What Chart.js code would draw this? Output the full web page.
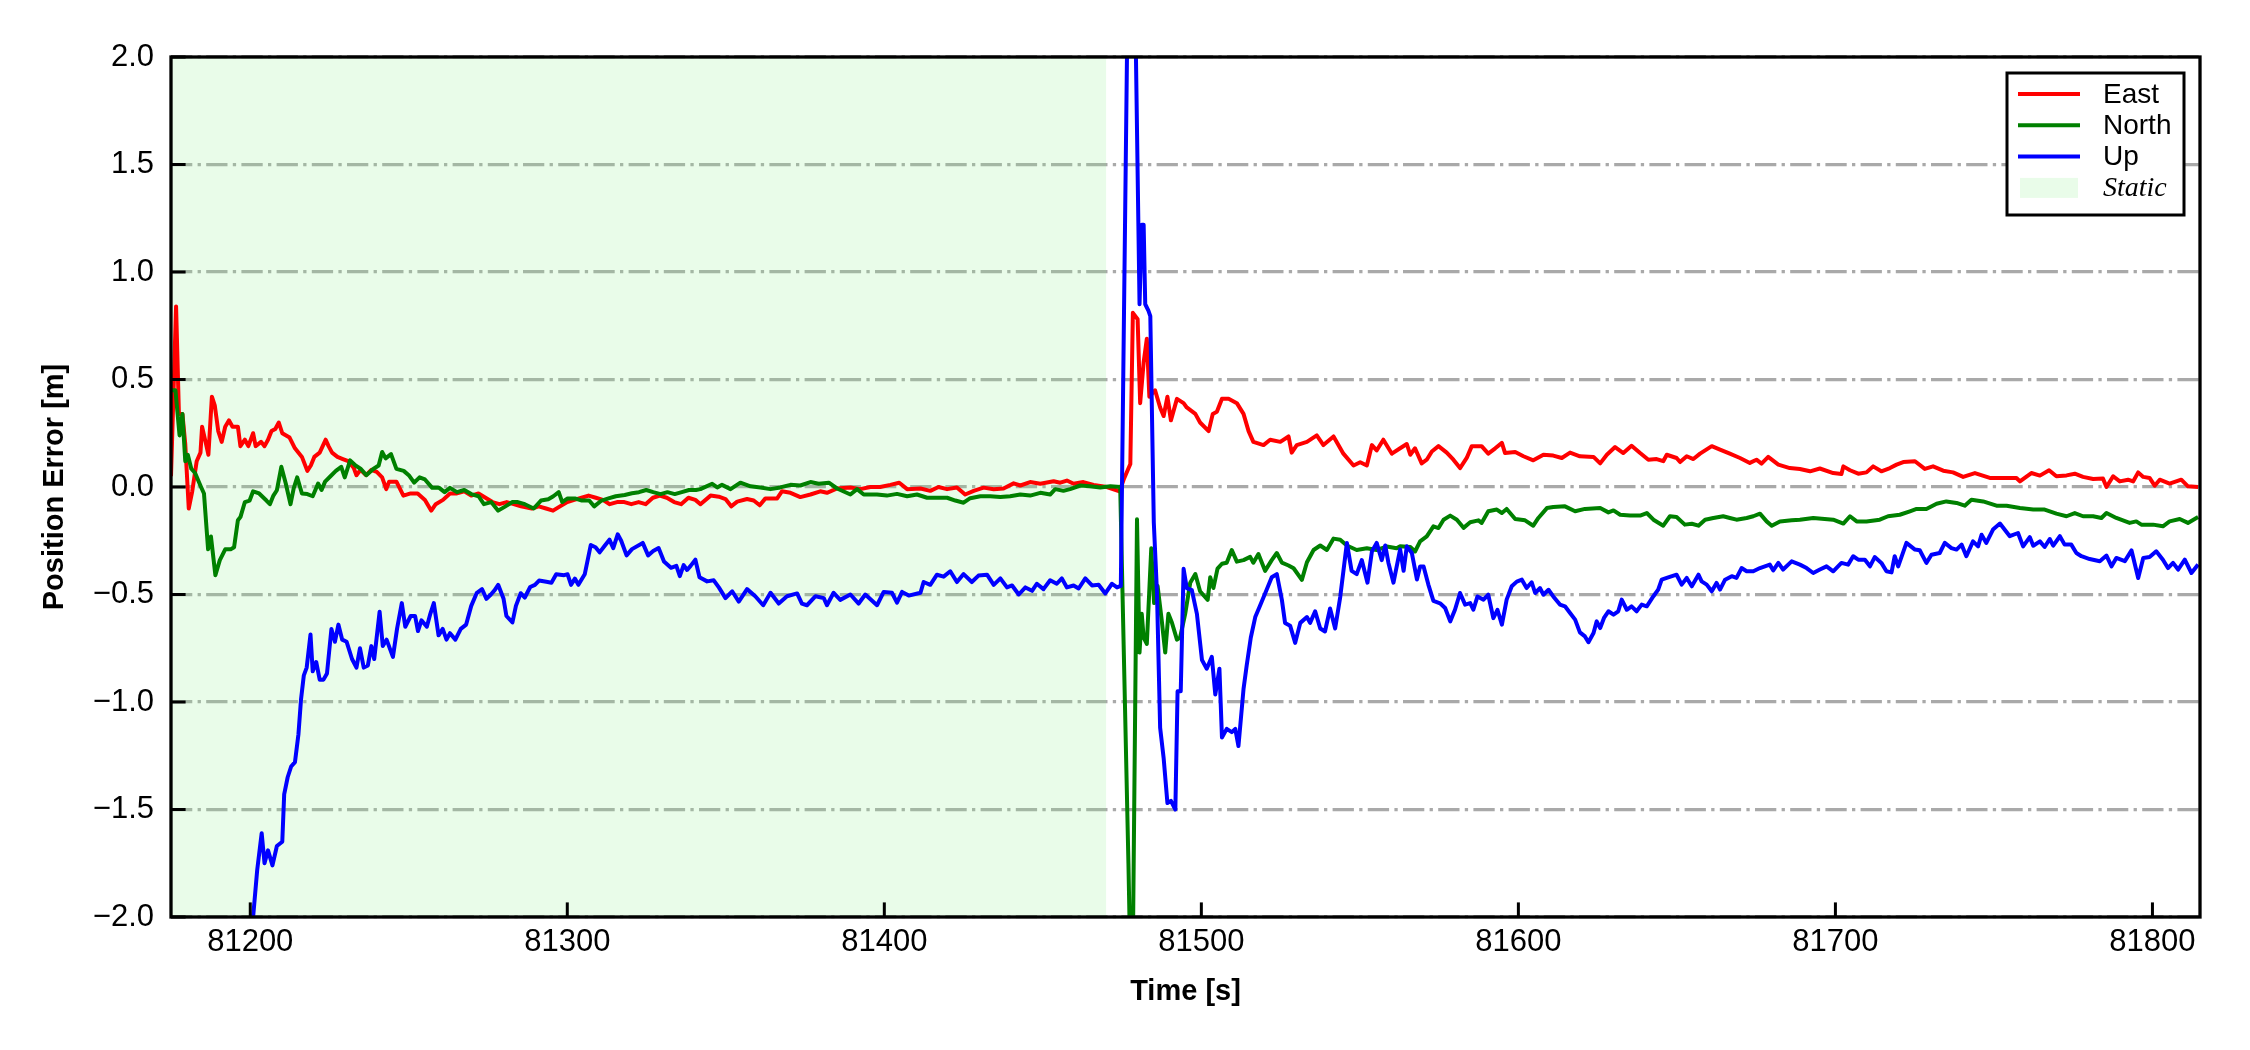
<!DOCTYPE html>
<html><head><meta charset="utf-8">
<script src="https://cdn.jsdelivr.net/npm/chart.js@4/dist/chart.umd.min.js"></script>
<style>html,body{margin:0;padding:0;background:#fff;}canvas{display:block;}</style>
</head><body>
<canvas id="c" width="2250" height="1050" style="width:2250px;height:1050px"></canvas>
<script>
// ---- data (time [s], error [m]) ----
const seriesNames = ['East', 'North', 'Up'];
const staticLabel = 'Static';
const staticSpan = [81175, 81470];
const xRange = [81175, 81815];
const yRange = [-2, 2];
const xTickValues = [81200, 81300, 81400, 81500, 81600, 81700, 81800];
const xTickLabels = ['81200', '81300', '81400', '81500', '81600', '81700', '81800'];
const yTickValues = [-2, -1.5, -1, -0.5, 0, 0.5, 1, 1.5, 2];
const yTickLabels = ['\u22122.0', '\u22121.5', '\u22121.0', '\u22120.5', '0.0', '0.5', '1.0', '1.5', '2.0'];

const east = [[81175.0,0.05],[81176.6,0.84],[81177.5,0.34],[81178.6,0.34],[81179.5,0.20],[81180.6,-0.10],[81181.7,-0.02],[81183.1,0.12],[81184.3,0.16],[81184.8,0.28],[81185.9,0.21],[81186.8,0.15],[81187.9,0.42],[81188.8,0.38],[81189.9,0.26],[81191.0,0.21],[81192.1,0.28],[81193.3,0.31],[81194.4,0.28],[81196.1,0.28],[81196.9,0.19],[81198.3,0.22],[81199.4,0.19],[81200.9,0.25],[81201.7,0.19],[81203.4,0.21],[81204.5,0.19],[81205.6,0.22],[81206.7,0.26],[81207.9,0.27],[81209.0,0.30],[81210.1,0.25],[81212.4,0.23],[81214.1,0.18],[81216.3,0.14],[81218.0,0.075],[81219.1,0.10],[81220.2,0.14],[81221.9,0.16],[81223.8,0.22],[81224.7,0.19],[81225.8,0.16],[81227.5,0.14],[81229.2,0.13],[81230.9,0.12],[81232.6,0.09],[81233.5,0.055],[81234.8,0.08],[81236.5,0.055],[81238.2,0.08],[81239.9,0.07],[81241.6,0.045],[81242.9,-0.01],[81243.8,0.025],[81246.1,0.025],[81248.3,-0.04],[81250.6,-0.03],[81252.8,-0.03],[81255.1,-0.06],[81257.1,-0.11],[81258.5,-0.08],[81260.8,-0.06],[81263.0,-0.03],[81265.2,-0.03],[81267.5,-0.02],[81269.7,-0.04],[81272.0,-0.03],[81274.2,-0.05],[81276.4,-0.07],[81278.6,-0.08],[81280.9,-0.07],[81283.1,-0.08],[81285.4,-0.09],[81288.8,-0.10],[81291.0,-0.09],[81293.3,-0.10],[81295.5,-0.11],[81297.7,-0.09],[81300.0,-0.07],[81302.2,-0.06],[81304.5,-0.05],[81306.7,-0.04],[81309.0,-0.05],[81311.2,-0.06],[81313.4,-0.08],[81315.7,-0.07],[81318.0,-0.07],[81320.2,-0.08],[81322.5,-0.07],[81324.7,-0.08],[81327.0,-0.05],[81329.2,-0.04],[81331.4,-0.05],[81333.7,-0.07],[81335.9,-0.08],[81338.2,-0.05],[81340.4,-0.06],[81342.0,-0.08],[81345.2,-0.04],[81347.8,-0.045],[81349.9,-0.056],[81351.7,-0.09],[81353.6,-0.068],[81356.7,-0.056],[81358.8,-0.063],[81360.7,-0.085],[81362.5,-0.053],[81366.2,-0.053],[81367.7,-0.02],[81370.4,-0.027],[81373.5,-0.047],[81376.7,-0.035],[81379.8,-0.02],[81381.9,-0.027],[81385.1,-0.007],[81389.3,-0.002],[81392.4,-0.01],[81395.6,0.0],[81398.7,0.0],[81401.9,0.01],[81404.7,0.02],[81407.2,-0.01],[81411.4,-0.007],[81414.5,-0.018],[81417.1,0.0],[81419.8,-0.01],[81422.9,-0.002],[81425.5,-0.035],[81428.2,-0.018],[81431.3,-0.003],[81434.5,-0.01],[81437.6,-0.007],[81440.8,0.017],[81442.9,0.007],[81446.0,0.023],[81449.2,0.015],[81453.4,0.027],[81455.5,0.02],[81457.6,0.03],[81459.7,0.015],[81462.8,0.023],[81466.0,0.01],[81470.2,0.0],[81474.2,-0.02],[81475.5,0.035],[81477.6,0.107],[81478.4,0.81],[81479.9,0.78],[81480.7,0.39],[81481.8,0.58],[81482.8,0.69],[81483.6,0.42],[81485.4,0.45],[81487.0,0.37],[81488.1,0.33],[81489.3,0.42],[81490.4,0.31],[81492.3,0.41],[81494.4,0.39],[81495.4,0.37],[81498.1,0.34],[81499.6,0.30],[81502.3,0.26],[81503.6,0.34],[81504.9,0.35],[81506.5,0.41],[81508.6,0.41],[81511.2,0.39],[81513.3,0.34],[81514.9,0.26],[81516.4,0.21],[81519.6,0.195],[81521.7,0.22],[81524.9,0.21],[81527.5,0.235],[81528.5,0.16],[81530.1,0.195],[81533.3,0.21],[81536.4,0.24],[81538.5,0.195],[81541.7,0.235],[81544.8,0.155],[81548.0,0.10],[81550.1,0.115],[81552.2,0.10],[81553.8,0.195],[81555.3,0.17],[81557.4,0.22],[81560.1,0.155],[81562.7,0.18],[81564.8,0.20],[81565.9,0.15],[81567.4,0.18],[81569.5,0.11],[81571.1,0.127],[81572.7,0.165],[81574.8,0.19],[81577.4,0.16],[81579.5,0.127],[81581.6,0.088],[81583.7,0.135],[81585.3,0.19],[81588.4,0.19],[81590.5,0.155],[81592.7,0.18],[81594.8,0.205],[81595.8,0.158],[81599.0,0.163],[81601.6,0.143],[81604.7,0.124],[81607.9,0.15],[81611.0,0.146],[81613.7,0.135],[81616.3,0.16],[81619.4,0.143],[81623.7,0.14],[81625.8,0.11],[81627.9,0.15],[81630.5,0.186],[81633.1,0.158],[81635.7,0.192],[81638.4,0.158],[81641.0,0.127],[81643.6,0.13],[81645.7,0.12],[81646.8,0.15],[81649.9,0.135],[81651.0,0.116],[81653.1,0.143],[81655.2,0.13],[81657.3,0.155],[81661.0,0.19],[81663.6,0.174],[81666.7,0.155],[81669.9,0.135],[81673.0,0.112],[81675.1,0.127],[81676.7,0.109],[81678.8,0.14],[81682.0,0.104],[81685.6,0.088],[81688.8,0.084],[81692.0,0.073],[81695.1,0.086],[81699.3,0.065],[81701.9,0.06],[81702.5,0.096],[81704.6,0.078],[81707.2,0.062],[81709.8,0.068],[81711.9,0.096],[81714.5,0.073],[81717.2,0.088],[81719.3,0.104],[81721.4,0.116],[81725.1,0.12],[81728.2,0.084],[81730.8,0.096],[81734.0,0.076],[81737.1,0.068],[81740.3,0.047],[81744.0,0.065],[81748.7,0.042],[81752.9,0.042],[81757.1,0.042],[81758.2,0.026],[81761.8,0.065],[81764.5,0.053],[81767.4,0.078],[81769.7,0.05],[81772.9,0.054],[81775.5,0.062],[81778.1,0.047],[81781.3,0.037],[81784.4,0.039],[81785.5,0.0],[81787.6,0.05],[81789.7,0.026],[81792.3,0.034],[81793.9,0.026],[81795.5,0.068],[81797.1,0.047],[81799.1,0.042],[81800.7,0.006],[81802.3,0.034],[81805.4,0.016],[81809.1,0.034],[81811.2,0.003],[81814.4,0.0]];

const north = [[81175.0,0.45],[81176.4,0.45],[81177.7,0.24],[81178.6,0.34],[81179.5,0.12],[81180.3,0.15],[81181.4,0.085],[81182.6,0.065],[81184.3,0.006],[81185.4,-0.03],[81186.7,-0.29],[81187.6,-0.23],[81189.0,-0.41],[81190.4,-0.34],[81192.1,-0.29],[81193.8,-0.29],[81194.9,-0.28],[81196.1,-0.155],[81196.9,-0.14],[81198.3,-0.07],[81199.8,-0.063],[81200.9,-0.02],[81202.8,-0.03],[81205.1,-0.063],[81206.2,-0.08],[81207.3,-0.04],[81208.4,-0.015],[81209.8,0.094],[81211.2,0.016],[81212.7,-0.08],[81213.7,-0.006],[81214.8,0.045],[81216.3,-0.03],[81218.0,-0.033],[81219.7,-0.043],[81221.4,0.016],[81222.5,-0.014],[81223.6,0.025],[81225.3,0.05],[81227.0,0.075],[81228.7,0.094],[81229.8,0.045],[81231.5,0.124],[81233.2,0.10],[81234.9,0.084],[81236.6,0.055],[81238.8,0.084],[81240.5,0.10],[81241.6,0.163],[81242.7,0.133],[81244.4,0.153],[81246.1,0.084],[81248.4,0.075],[81250.0,0.055],[81251.7,0.02],[81253.4,0.045],[81255.1,0.035],[81257.4,-0.004],[81259.6,-0.004],[81261.3,-0.024],[81263.0,-0.004],[81265.2,-0.024],[81267.5,-0.014],[81269.7,-0.033],[81272.0,-0.043],[81273.7,-0.08],[81276.0,-0.07],[81278.2,-0.11],[81280.5,-0.09],[81282.7,-0.07],[81284.4,-0.07],[81286.6,-0.08],[81289.4,-0.10],[81291.7,-0.063],[81294.0,-0.057],[81295.6,-0.043],[81297.3,-0.024],[81298.4,-0.07],[81300.1,-0.053],[81302.4,-0.053],[81304.6,-0.063],[81306.9,-0.063],[81308.5,-0.09],[81310.8,-0.063],[81313.0,-0.053],[81315.3,-0.043],[81318.1,-0.037],[81320.4,-0.029],[81322.6,-0.024],[81324.9,-0.014],[81327.1,-0.024],[81329.4,-0.033],[81331.6,-0.024],[81333.9,-0.033],[81336.1,-0.024],[81338.4,-0.014],[81340.6,-0.014],[81342.0,-0.01],[81345.7,0.015],[81347.3,-0.002],[81348.8,0.01],[81351.5,-0.01],[81354.6,0.02],[81357.8,0.003],[81360.9,-0.002],[81364.1,-0.01],[81367.2,-0.002],[81370.4,0.01],[81373.5,0.007],[81376.7,0.023],[81379.3,0.015],[81382.5,0.02],[81385.1,-0.007],[81389.3,-0.035],[81391.4,-0.01],[81393.5,-0.035],[81397.7,-0.035],[81400.8,-0.04],[81404.0,-0.032],[81407.2,-0.043],[81410.3,-0.035],[81413.5,-0.05],[81416.6,-0.05],[81419.8,-0.05],[81422.4,-0.063],[81425.0,-0.073],[81427.1,-0.052],[81430.3,-0.043],[81433.4,-0.043],[81436.6,-0.047],[81439.7,-0.043],[81442.9,-0.035],[81446.0,-0.04],[81449.2,-0.027],[81452.3,-0.035],[81453.9,-0.01],[81456.5,-0.018],[81458.6,-0.01],[81461.8,0.007],[81464.9,0.003],[81468.1,-0.002],[81471.3,0.003],[81474.4,0.0],[81477.0,-1.75],[81478.1,-2.6],[81479.7,-0.15],[81480.5,-0.77],[81481.2,-0.59],[81481.8,-0.70],[81482.8,-0.73],[81484.2,-0.285],[81485.1,-0.54],[81486.2,-0.46],[81487.5,-0.62],[81488.6,-0.77],[81489.6,-0.59],[81490.7,-0.63],[81492.3,-0.71],[81493.3,-0.70],[81494.9,-0.59],[81496.5,-0.445],[81498.1,-0.405],[81499.6,-0.485],[81500.9,-0.507],[81502.0,-0.525],[81502.8,-0.42],[81503.8,-0.47],[81505.1,-0.38],[81506.5,-0.357],[81508.0,-0.352],[81509.6,-0.293],[81511.2,-0.347],[81513.3,-0.34],[81515.4,-0.325],[81516.4,-0.352],[81518.0,-0.312],[81520.1,-0.39],[81522.2,-0.34],[81523.8,-0.307],[81525.4,-0.352],[81527.5,-0.365],[81529.1,-0.378],[81531.7,-0.432],[81533.3,-0.35],[81535.4,-0.293],[81537.5,-0.272],[81539.6,-0.293],[81541.7,-0.24],[81543.8,-0.245],[81545.9,-0.272],[81549.0,-0.293],[81552.2,-0.285],[81555.3,-0.293],[81558.5,-0.277],[81561.6,-0.285],[81562.7,-0.276],[81565.9,-0.279],[81567.4,-0.30],[81569.0,-0.253],[81571.1,-0.23],[81573.2,-0.183],[81574.8,-0.191],[81576.4,-0.152],[81578.5,-0.133],[81580.6,-0.152],[81582.7,-0.19],[81584.8,-0.164],[81587.4,-0.155],[81588.4,-0.167],[81590.5,-0.113],[81593.2,-0.105],[81594.8,-0.121],[81596.3,-0.102],[81599.0,-0.149],[81602.1,-0.155],[81604.7,-0.18],[81606.3,-0.144],[81609.0,-0.098],[81611.0,-0.093],[81614.7,-0.09],[81617.9,-0.113],[81621.0,-0.102],[81625.8,-0.098],[81628.4,-0.118],[81630.0,-0.109],[81632.1,-0.129],[81635.2,-0.133],[81638.4,-0.133],[81640.5,-0.121],[81642.6,-0.152],[81645.7,-0.18],[81647.8,-0.136],[81649.9,-0.14],[81652.5,-0.175],[81654.7,-0.171],[81656.8,-0.18],[81658.9,-0.152],[81661.5,-0.144],[81664.6,-0.136],[81666.7,-0.144],[81668.8,-0.152],[81672.0,-0.144],[81674.1,-0.136],[81676.2,-0.124],[81678.3,-0.16],[81679.9,-0.18],[81682.5,-0.16],[81686.2,-0.155],[81688.8,-0.152],[81693.0,-0.144],[81699.3,-0.152],[81702.5,-0.17],[81704.6,-0.136],[81706.7,-0.16],[81709.8,-0.16],[81714.0,-0.152],[81716.6,-0.136],[81720.3,-0.129],[81723.5,-0.113],[81725.6,-0.102],[81728.7,-0.102],[81731.9,-0.078],[81735.0,-0.067],[81738.2,-0.074],[81740.8,-0.087],[81742.9,-0.059],[81746.6,-0.067],[81750.8,-0.087],[81754.0,-0.087],[81758.2,-0.098],[81762.4,-0.105],[81766.0,-0.105],[81769.7,-0.124],[81772.9,-0.136],[81775.5,-0.121],[81778.1,-0.136],[81781.3,-0.136],[81783.9,-0.144],[81785.5,-0.121],[81788.6,-0.144],[81792.8,-0.167],[81794.9,-0.16],[81796.5,-0.175],[81800.2,-0.175],[81803.3,-0.183],[81805.4,-0.16],[81808.6,-0.149],[81811.2,-0.167],[81814.4,-0.14]];

const up = [[81175.0,-3.6],[81190.0,-2.8],[81200.9,-2.0],[81202.2,-1.78],[81203.6,-1.61],[81204.5,-1.75],[81205.6,-1.69],[81207.0,-1.76],[81208.4,-1.67],[81210.1,-1.65],[81210.7,-1.43],[81211.8,-1.35],[81212.9,-1.30],[81214.1,-1.28],[81215.2,-1.15],[81216.0,-0.99],[81216.9,-0.876],[81217.8,-0.84],[81219.0,-0.686],[81219.7,-0.857],[81220.8,-0.814],[81221.9,-0.896],[81223.1,-0.896],[81224.2,-0.867],[81225.6,-0.66],[81226.7,-0.72],[81227.8,-0.64],[81229.0,-0.71],[81230.4,-0.72],[81232.1,-0.80],[81233.5,-0.84],[81234.6,-0.75],[81235.8,-0.84],[81237.1,-0.83],[81238.2,-0.74],[81239.1,-0.80],[81240.8,-0.58],[81241.8,-0.74],[81243.0,-0.71],[81245.0,-0.79],[81246.3,-0.66],[81247.8,-0.54],[81248.9,-0.65],[81250.6,-0.60],[81252.0,-0.60],[81252.9,-0.67],[81254.0,-0.62],[81255.7,-0.65],[81256.8,-0.59],[81257.9,-0.54],[81259.4,-0.69],[81260.7,-0.66],[81261.9,-0.71],[81263.0,-0.68],[81264.7,-0.71],[81266.4,-0.66],[81268.1,-0.64],[81269.7,-0.553],[81271.4,-0.494],[81273.1,-0.475],[81274.5,-0.52],[81275.9,-0.50],[81277.1,-0.48],[81278.2,-0.455],[81279.9,-0.52],[81280.8,-0.60],[81282.7,-0.63],[81283.8,-0.553],[81285.3,-0.494],[81286.6,-0.514],[81288.3,-0.465],[81289.8,-0.455],[81291.1,-0.435],[81293.4,-0.441],[81295.0,-0.445],[81296.5,-0.406],[81299.0,-0.41],[81300.1,-0.406],[81301.2,-0.455],[81302.4,-0.426],[81303.5,-0.455],[81305.5,-0.406],[81307.4,-0.27],[81308.9,-0.28],[81310.2,-0.304],[81311.8,-0.273],[81313.3,-0.245],[81314.5,-0.284],[81315.9,-0.22],[81317.0,-0.25],[81318.7,-0.318],[81320.4,-0.289],[81323.8,-0.26],[81325.5,-0.318],[81327.1,-0.298],[81328.8,-0.284],[81330.5,-0.347],[81332.7,-0.376],[81334.4,-0.367],[81335.5,-0.415],[81336.7,-0.363],[81337.8,-0.386],[81338.9,-0.367],[81340.4,-0.338],[81341.7,-0.42],[81344.1,-0.439],[81346.2,-0.434],[81347.8,-0.467],[81349.9,-0.517],[81352.0,-0.485],[81354.1,-0.533],[81356.7,-0.475],[81359.3,-0.508],[81361.8,-0.55],[81364.1,-0.492],[81366.7,-0.542],[81369.3,-0.508],[81372.5,-0.495],[81374.0,-0.542],[81375.6,-0.55],[81378.3,-0.508],[81380.9,-0.517],[81381.9,-0.55],[81384.0,-0.492],[81386.1,-0.525],[81389.3,-0.5],[81391.9,-0.542],[81394.0,-0.5],[81397.7,-0.55],[81399.8,-0.488],[81402.4,-0.492],[81404.0,-0.538],[81405.6,-0.488],[81407.7,-0.505],[81411.4,-0.492],[81412.4,-0.442],[81414.5,-0.455],[81416.6,-0.408],[81418.7,-0.417],[81420.8,-0.392],[81422.9,-0.442],[81425.0,-0.405],[81427.6,-0.442],[81429.7,-0.412],[81432.4,-0.408],[81434.5,-0.455],[81436.6,-0.425],[81438.7,-0.467],[81440.3,-0.458],[81442.4,-0.5],[81444.5,-0.467],[81446.6,-0.483],[81448.1,-0.45],[81450.2,-0.475],[81452.3,-0.434],[81454.4,-0.45],[81456.0,-0.425],[81457.6,-0.467],[81459.7,-0.458],[81461.3,-0.472],[81463.4,-0.425],[81465.5,-0.458],[81467.6,-0.455],[81469.7,-0.495],[81471.8,-0.45],[81473.4,-0.467],[81474.6,-0.46],[81477.8,3.6],[81480.5,0.85],[81481.2,1.22],[81481.8,1.22],[81482.3,0.85],[81483.3,0.82],[81483.9,0.795],[81485.0,-0.165],[81486.0,-0.49],[81487.0,-1.12],[81488.1,-1.26],[81489.3,-1.47],[81490.4,-1.46],[81491.8,-1.50],[81492.5,-0.95],[81493.5,-0.95],[81494.4,-0.38],[81495.4,-0.47],[81497.0,-0.48],[81498.6,-0.59],[81500.2,-0.805],[81501.7,-0.845],[81503.3,-0.79],[81504.4,-0.965],[81505.7,-0.845],[81506.5,-1.165],[81508.0,-1.125],[81509.6,-1.14],[81510.7,-1.125],[81511.7,-1.205],[81513.3,-0.94],[81514.3,-0.83],[81515.6,-0.70],[81517.0,-0.605],[81518.5,-0.552],[81520.4,-0.485],[81522.2,-0.42],[81523.8,-0.405],[81525.4,-0.525],[81526.4,-0.632],[81528.0,-0.645],[81529.6,-0.725],[81531.2,-0.632],[81533.3,-0.605],[81534.3,-0.632],[81535.9,-0.578],[81537.5,-0.658],[81539.0,-0.672],[81540.6,-0.565],[81542.2,-0.658],[81543.8,-0.512],[81545.9,-0.26],[81547.4,-0.39],[81549.0,-0.405],[81550.6,-0.34],[81552.4,-0.445],[81553.8,-0.30],[81555.3,-0.26],[81556.9,-0.34],[81558.0,-0.272],[81559.0,-0.352],[81560.6,-0.445],[81562.7,-0.29],[81563.8,-0.39],[81564.8,-0.276],[81566.4,-0.307],[81568.0,-0.43],[81569.0,-0.37],[81570.1,-0.37],[81571.6,-0.454],[81573.2,-0.53],[81575.3,-0.541],[81576.9,-0.563],[81578.5,-0.625],[81580.0,-0.571],[81581.6,-0.493],[81583.2,-0.547],[81584.8,-0.54],[81585.8,-0.571],[81587.1,-0.509],[81589.0,-0.524],[81590.5,-0.501],[81592.1,-0.61],[81593.4,-0.571],[81594.8,-0.64],[81596.3,-0.524],[81597.9,-0.462],[81599.5,-0.44],[81601.1,-0.431],[81602.6,-0.47],[81604.2,-0.443],[81605.3,-0.493],[81606.8,-0.47],[81607.9,-0.501],[81609.5,-0.478],[81611.0,-0.509],[81613.1,-0.547],[81614.7,-0.555],[81616.3,-0.586],[81617.9,-0.617],[81619.4,-0.676],[81621.0,-0.695],[81622.1,-0.722],[81623.7,-0.679],[81624.7,-0.625],[81625.8,-0.656],[81627.0,-0.609],[81628.4,-0.578],[81630.0,-0.594],[81631.5,-0.578],[81632.6,-0.524],[81634.2,-0.571],[81635.7,-0.555],[81637.3,-0.578],[81638.9,-0.547],[81640.5,-0.555],[81642.6,-0.508],[81644.1,-0.477],[81645.2,-0.431],[81646.8,-0.423],[81649.9,-0.408],[81651.5,-0.454],[81653.1,-0.423],[81654.7,-0.462],[81656.8,-0.408],[81657.8,-0.439],[81659.4,-0.454],[81661.0,-0.485],[81662.5,-0.446],[81663.6,-0.477],[81665.2,-0.431],[81667.3,-0.415],[81668.8,-0.423],[81670.4,-0.377],[81672.0,-0.392],[81674.1,-0.392],[81676.2,-0.377],[81679.3,-0.361],[81680.4,-0.388],[81682.0,-0.353],[81683.5,-0.384],[81686.2,-0.346],[81688.8,-0.361],[81690.9,-0.377],[81693.0,-0.40],[81695.1,-0.384],[81697.2,-0.369],[81699.3,-0.392],[81701.9,-0.353],[81704.0,-0.361],[81705.6,-0.322],[81707.2,-0.338],[81709.3,-0.338],[81710.9,-0.369],[81712.4,-0.326],[81714.5,-0.353],[81716.1,-0.392],[81717.7,-0.397],[81718.7,-0.322],[81719.8,-0.369],[81722.4,-0.26],[81725.1,-0.291],[81726.6,-0.294],[81728.7,-0.353],[81730.3,-0.315],[81732.9,-0.307],[81734.5,-0.26],[81736.6,-0.284],[81738.2,-0.291],[81739.8,-0.268],[81741.3,-0.322],[81743.4,-0.253],[81745.0,-0.276],[81746.1,-0.222],[81747.6,-0.26],[81749.7,-0.198],[81751.9,-0.17],[81755.0,-0.229],[81757.6,-0.214],[81759.2,-0.276],[81761.3,-0.233],[81762.4,-0.273],[81764.5,-0.253],[81766.0,-0.279],[81767.6,-0.242],[81768.7,-0.273],[81770.8,-0.229],[81772.3,-0.268],[81774.4,-0.268],[81776.0,-0.307],[81777.6,-0.322],[81780.2,-0.335],[81783.4,-0.345],[81785.5,-0.319],[81787.1,-0.369],[81788.6,-0.33],[81791.3,-0.345],[81793.4,-0.295],[81795.5,-0.423],[81797.1,-0.33],[81799.1,-0.326],[81801.2,-0.299],[81803.3,-0.338],[81804.9,-0.377],[81806.5,-0.353],[81808.1,-0.384],[81810.2,-0.338],[81812.3,-0.40],[81814.4,-0.361]];

// ---- chart ----
const toXY = arr => arr.map(p => ({x: p[0], y: p[1]}));
const SANS = "'Liberation Sans', Arial, Helvetica, sans-serif";
const SERIF = "'Liberation Serif', 'Times New Roman', serif";

const frameTicksPlugin = {
  id: 'frameTicks',
  afterDatasetsDraw(chart) {
    const {ctx, chartArea: a, scales} = chart;
    ctx.save();
    ctx.strokeStyle = '#000';
    ctx.lineWidth = 3;
    ctx.setLineDash([]);
    const tl = 14.6;
    xTickValues.forEach(v => {
      const px = scales.x.getPixelForValue(v);
      ctx.beginPath(); ctx.moveTo(px, a.bottom); ctx.lineTo(px, a.bottom - tl); ctx.stroke();
    });
    yTickValues.forEach(v => {
      const py = scales.y.getPixelForValue(v);
      ctx.beginPath(); ctx.moveTo(a.left, py); ctx.lineTo(a.left + tl, py); ctx.stroke();
    });
    ctx.lineWidth = 3.3;
    ctx.strokeRect(a.left, a.top, a.right - a.left, a.bottom - a.top);
    ctx.restore();
  }
};

const legendPlugin = {
  id: 'mplLegend',
  afterDraw(chart) {
    const {ctx, chartArea: a} = chart;
    const w = 177, h = 142;
    const x0 = a.right - 16 - w, y0 = a.top + 16;
    ctx.save();
    ctx.fillStyle = '#fff';
    ctx.fillRect(x0, y0, w, h);
    ctx.strokeStyle = '#000';
    ctx.lineWidth = 3;
    ctx.strokeRect(x0, y0, w, h);
    ctx.textBaseline = 'middle';
    ctx.textAlign = 'left';
    chart.data.datasets.forEach((ds, i) => {
      const cy = y0 + 21 + i * 31.3;
      if (ds.isSpan) {
        ctx.fillStyle = ds.backgroundColor;
        ctx.fillRect(x0 + 13, cy - 10, 58, 20);
        ctx.fillStyle = '#000';
        ctx.font = "italic 28px " + SERIF;
      } else {
        ctx.strokeStyle = ds.borderColor;
        ctx.lineWidth = 4;
        ctx.beginPath(); ctx.moveTo(x0 + 11, cy); ctx.lineTo(x0 + 73, cy); ctx.stroke();
        ctx.fillStyle = '#000';
        ctx.font = "28px " + SANS;
      }
      ctx.fillText(ds.label, x0 + 96, cy + 1);
    });
    ctx.restore();
  }
};

const colors = ['#ff0000', '#008000', '#0000ff'];
const lineData = [east, north, up];
const datasets = seriesNames.map((name, i) => ({
  label: name,
  data: toXY(lineData[i]),
  borderColor: colors[i],
  backgroundColor: colors[i],
  borderWidth: 4,
  pointRadius: 0,
  tension: 0,
  fill: false,
  borderJoinStyle: 'round',
  order: 2 - i
}));
datasets.push({
  label: staticLabel,
  isSpan: true,
  data: [{x: staticSpan[0], y: yRange[1]}, {x: staticSpan[1], y: yRange[1]}],
  borderWidth: 0,
  borderColor: 'rgba(0,0,0,0)',
  backgroundColor: 'rgba(144,238,144,0.2)',
  pointRadius: 0,
  fill: 'start',
  order: 3
});

Chart.defaults.font.family = SANS;
Chart.defaults.color = '#000';

new Chart(document.getElementById('c'), {
  type: 'line',
  data: {datasets},
  options: {
    responsive: false,
    devicePixelRatio: 1,
    animation: false,
    layout: {padding: {left: 0, right: 50, top: 57, bottom: 0}},
    plugins: {legend: {display: false}, tooltip: {enabled: false}},
    scales: {
      x: {
        type: 'linear',
        min: xRange[0], max: xRange[1],
        afterBuildTicks: s => { s.ticks = xTickValues.map(v => ({value: v})); },
        afterFit: s => { s.height = 133; },
        grid: {display: false, drawTicks: false},
        border: {display: false},
        ticks: {
          autoSkip: false, maxRotation: 0, padding: 7, color: '#000',
          font: {size: 31, family: SANS},
          callback: v => xTickLabels[xTickValues.indexOf(v)]
        },
        title: {display: true, text: 'Time [s]', color: '#000',
          font: {size: 29, weight: 'bold', family: SANS}, padding: {top: 0, bottom: 41}}
      },
      y: {
        type: 'linear',
        min: yRange[0], max: yRange[1],
        afterBuildTicks: s => { s.ticks = yTickValues.map(v => ({value: v})); },
        afterFit: s => { s.width = 171; },
        grid: {display: true, drawTicks: false, color: '#a9a9a9', lineWidth: 3.3},
        border: {display: false, dash: [21.3, 5.3, 3.3, 5.3]},
        ticks: {
          autoSkip: false, padding: 17, color: '#000',
          font: {size: 31, family: SANS},
          callback: v => yTickLabels[yTickValues.indexOf(v)]
        },
        title: {display: true, text: 'Position Error [m]', color: '#000',
          font: {size: 29, weight: 'bold', family: SANS}, padding: {top: 38, bottom: 0}}
      }
    }
  },
  plugins: [frameTicksPlugin, legendPlugin]
});
</script>
</body></html>
